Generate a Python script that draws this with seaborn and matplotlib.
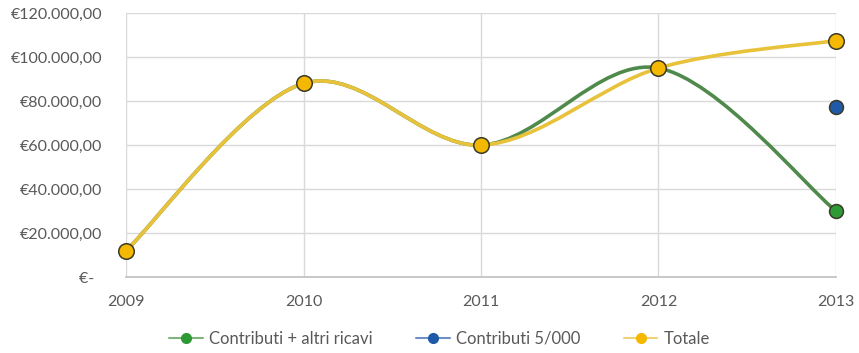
import numpy as np
import pandas as pd
import matplotlib
matplotlib.use("Agg")
import matplotlib.pyplot as plt
import seaborn as sns
from matplotlib.path import Path
from matplotlib.patches import PathPatch
from matplotlib.lines import Line2D

# Data
years = ["2009", "2010", "2011", "2012", "2013"]
contributi_ricavi = [12000, 88000, 60000, 95000, 30000]
contributi_5000 = [None, None, None, None, 77500]
totale = [12000, 88000, 60000, 95000, 107500]
y_ticks = [0, 20000, 40000, 60000, 80000, 100000, 120000]
y_labels = ["€-  ", "€20.000,00", "€40.000,00", "€60.000,00",
            "€80.000,00", "€100.000,00", "€120.000,00"]

series_names = ["Contributi + altri ricavi", "Contributi 5/000", "Totale"]
line_colors = ["#4f8a4c", "#2f5597", "#e8c23a"]
marker_colors = ["#2e9a36", "#1f5aa8", "#f5b800"]

sns.set_theme(style="white")
plt.rcParams["font.family"] = ["Lato", "DejaVu Sans"]

fig = plt.figure(figsize=(8.59, 3.53), dpi=100)
ax = fig.add_axes([0.1467, 0.215, 0.8265, 0.748])


def smooth_path(xs, ys):
    """Cubic Bezier path through the points (spreadsheet-style smoothing)."""
    pts = np.column_stack([xs, ys]).astype(float)
    n = len(pts)
    verts = [pts[0]]
    codes = [Path.MOVETO]
    for i in range(n - 1):
        p_prev = pts[i - 1] if i > 0 else pts[i]
        p_next2 = pts[i + 2] if i + 2 < n else pts[i + 1]
        c1 = pts[i] + (pts[i + 1] - p_prev) / 6.0
        c2 = pts[i + 1] - (p_next2 - pts[i]) / 6.0
        verts += [c1, c2, pts[i + 1]]
        codes += [Path.CURVE4] * 3
    return Path(verts, codes)


x_idx = np.arange(len(years))
rows = []
for name, vals in zip(series_names, [contributi_ricavi, contributi_5000, totale]):
    for x, v in zip(x_idx, vals):
        if v is not None:
            rows.append({"x": x, "valore": v, "serie": name})
df = pd.DataFrame(rows)

# Smoothed lines (green under yellow)
for name, col, z in [(series_names[0], line_colors[0], 2), (series_names[2], line_colors[2], 3)]:
    sub = df[df["serie"] == name]
    if len(sub) > 1:
        ax.add_patch(PathPatch(smooth_path(sub["x"], sub["valore"]), fill=False,
                               edgecolor=col, lw=2.6, zorder=z, capstyle="round"))

# Markers
for name, col, size, z in [(series_names[0], marker_colors[0], 100, 4),
                           (series_names[1], marker_colors[1], 100, 4),
                           (series_names[2], marker_colors[2], 125, 5)]:
    sub = df[df["serie"] == name]
    sns.scatterplot(data=sub, x="x", y="valore", ax=ax, color=col, s=size,
                    edgecolor="#3a3a2a", linewidth=1.1, zorder=z, legend=False,
                    clip_on=False)

ax.set_xlim(0, 4)
ax.set_ylim(0, 120000)
ax.set_xticks(x_idx)
ax.set_xticklabels(years)
ax.set_yticks(y_ticks)
ax.set_yticklabels(y_labels)
ax.set_xlabel("")
ax.set_ylabel("")
ax.grid(True, color="#d9d9d9", lw=1)
ax.set_axisbelow(True)
for s in ["top", "right", "left"]:
    ax.spines[s].set_visible(False)
ax.spines["bottom"].set_color("#bfbfbf")
ax.spines["bottom"].set_linewidth(1.2)
ax.tick_params(axis="both", length=0, labelsize=11.5, colors="#595959")
ax.tick_params(axis="x", pad=13)
ax.tick_params(axis="y", pad=17)
for lbl in ax.get_xticklabels() + ax.get_yticklabels():
    lbl.set_color("#595959")

handles = [Line2D([0], [0], color=lc, lw=1.5, marker="o", markersize=7,
                  markerfacecolor=mc, markeredgecolor=mc)
           for lc, mc in zip(["#7fb47c", "#6f8fc8", "#f0d27a"], marker_colors)]
leg = fig.legend(handles, series_names, loc="center", bbox_to_anchor=(0.512, 0.04),
                 ncol=3, frameon=False, fontsize=12, handlelength=2.0,
                 handletextpad=0.4, columnspacing=2.6)
for t in leg.get_texts():
    t.set_color("#595959")

fig.savefig("out.png", dpi=100)
